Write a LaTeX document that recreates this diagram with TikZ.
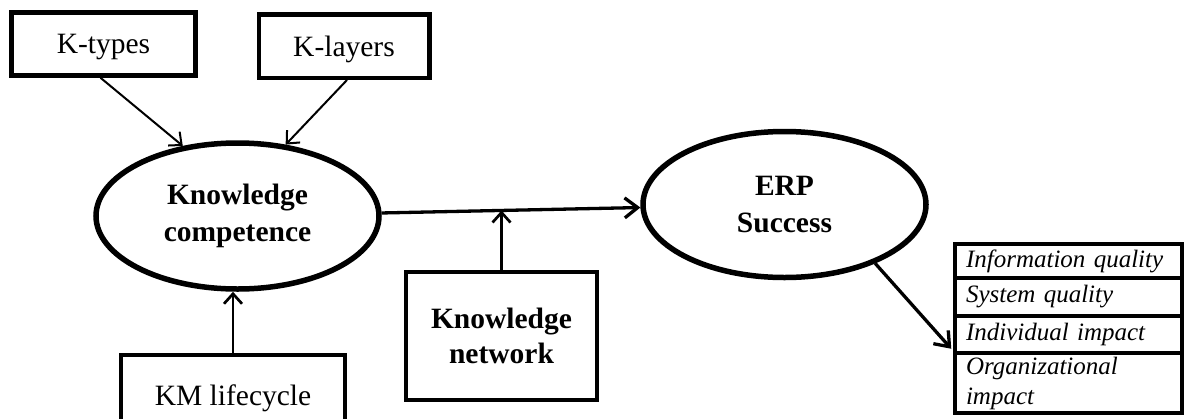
\documentclass[tikz,border=0pt]{standalone}
\usepackage{fontspec}
\setmainfont{Liberation Serif}
\usetikzlibrary{arrows.meta,shapes.geometric,calc}
\begin{document}
\begin{tikzpicture}[x=1pt,y=-1pt,
  lbox/.style={draw,line width=4.5pt,inner sep=0pt,text depth=0pt,
    font=\fontsize{29.5}{37}\selectfont},
  bbox/.style={draw,line width=4.8pt,inner sep=0pt,align=center,
    font=\fontsize{29.5}{35}\selectfont\bfseries},
  oval/.style={draw,ellipse,line width=5.5pt,inner sep=0pt,align=center,
    minimum width=283pt,minimum height=146pt,
    font=\fontsize{29.5}{37}\selectfont\bfseries},
  row/.style={draw,line width=3.5pt,inner xsep=11pt,inner ysep=0pt,
    minimum width=227pt,text width=205pt,align=left,
    font=\fontsize{25}{30}\selectfont\itshape},
  thin/.style={line width=2pt,-{Straight Barb[length=10pt,width=18pt]}},
  thick/.style={line width=3.3pt,-{Straight Barb[length=13pt,width=20pt]}}
]
\useasboundingbox (0,0) rectangle (1185,418);
% boxes
\node[lbox,minimum width=184pt,minimum height=63pt] (ktypes) at (103.5,44) {K-types};
\node[lbox,minimum width=170.5pt,minimum height=63.5pt] (klayers) at (344,46) {K-layers};
\node[lbox,minimum width=224pt,minimum height=80pt] (kml) at (233,395) {KM lifecycle};
\node[bbox,minimum width=191pt,minimum height=128pt] (kn) at (501.5,336) {Knowledge\\network};
% ellipses
\node[oval] (kc) at (237.5,216) {Knowledge\\competence};
\node[oval] (erp) at (784.5,204.5) {ERP\\Success};
% table
\node[row,minimum height=34pt] (r1) at (1068.5,261) {Information quality};
\node[row,minimum height=38pt] (r2) at (1068.5,297) {System quality};
\node[row,minimum height=37pt] (r3) at (1068.5,334.5) {Individual impact};
\node[row,minimum height=60pt] (r4) at (1068.5,383) {Organizational\\impact};
% connectors
\coordinate (kts) at ($(ktypes.south)+(-3,0)$);
\coordinate (kls) at ($(klayers.south)+(3,0)$);
\draw[thin] (kts) -- (kc.128);
\draw[thin] (kls) -- (kc.56);
\draw[line width=2.7pt,-{Straight Barb[length=10pt,width=18pt]}] (kml.north) -- (kml.north |- kc.south);
\draw[thick] (kc) -- (erp);
\coordinate (m) at ($(kc)!(kn.north)!(erp)$);
\draw[line width=2.7pt,-{Straight Barb[length=10pt,width=18pt]}] (kn.north) -- (kn.north |- m);
\coordinate (tip) at ($(r3.south west)+(-2,-6)$);
\draw[thick] (erp.-33) -- (tip);
\end{tikzpicture}
\end{document}
